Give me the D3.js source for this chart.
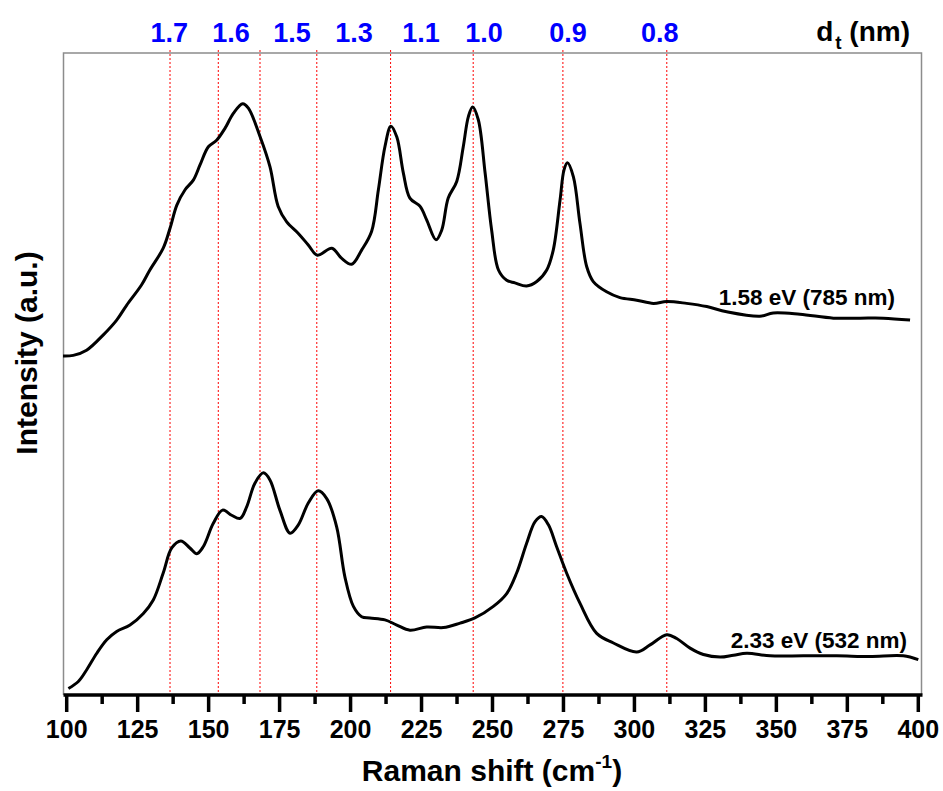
<!DOCTYPE html>
<html>
<head>
<meta charset="utf-8">
<script src="https://cdn.jsdelivr.net/npm/d3@7"></script>
<style>
  html, body { margin: 0; padding: 0; background: #fff; }
  svg { display: block; font-family: "Liberation Sans", Arial, sans-serif; }
</style>
</head>
<body>
<svg id="chart" width="943" height="791"></svg>
<script>
// Raman shift (cm^-1) and intensity (a.u., offset spectra)
const shift785 = [98.7,102.3,107.0,112.9,117.6,121.1,126.4,129.3,134.0,136.4,138.8,141.7,144.6,147.0,149.9,152.8,155.8,158.7,162.0,164.0,168.1,171.6,174.5,177.5,181.6,185.1,188.3,193.4,196.9,200.4,203.9,207.4,209.8,212.1,214.2,216.3,218.6,220.9,224.5,226.8,230.1,232.1,234.4,237.4,239.7,241.5,243.0,245.0,247.4,249.7,252.1,255.0,257.9,262.0,265.6,269.1,271.4,273.8,275.2,276.4,278.5,280.8,283.2,285.5,290.2,294.9,300.8,306.7,311.4,318.4,325.5,332.5,344.2,348.9,358.3,370.1,379.5,387.7,397.1];
const int785 = [52.8,52.9,53.7,56.1,58.4,60.7,63.9,66.2,69.6,72.7,76.3,78.7,80.2,82.6,85.4,86.4,88.3,90.6,92.1,91.4,87.0,82.3,76.1,73.7,71.9,70.1,68.5,69.6,68.0,67.1,69.3,72.2,78.7,85.4,88.6,86.9,81.3,77.4,76.1,74.0,70.9,72.4,77.4,80.0,85.4,90.1,91.6,89.6,81.3,72.4,66.2,64.6,64.2,63.7,64.4,66.2,69.3,77.1,81.8,82.9,80.7,73.5,66.7,64.4,62.8,61.9,61.5,61.0,61.3,61.0,60.5,59.7,59.0,59.5,59.3,58.7,58.7,58.7,58.4];

const shift532 = [100.6,104.1,107.0,110.6,114.1,117.6,122.3,127.0,130.5,134.0,137.0,140.2,143.4,145.8,148.1,151.6,154.9,158.1,161.1,163.4,166.3,169.3,171.6,175.1,178.7,181.6,185.1,188.6,191.6,195.1,198.0,201.0,203.9,206.8,212.1,216.3,220.9,226.8,232.7,238.6,243.8,250.3,255.0,258.5,262.0,265.0,267.3,269.7,272.6,276.1,280.8,286.7,292.6,300.8,305.5,311.4,314.9,319.6,324.3,330.2,334.9,339.6,347.8,359.5,371.3,383.0,394.7,400.0];
const int532 = [1.0,2.1,3.9,6.5,8.6,9.9,10.9,12.7,14.8,19.0,22.9,24.0,22.9,22.0,23.1,26.7,28.8,28.0,27.5,29.3,33.0,34.6,33.5,28.8,25.2,26.5,29.9,31.8,30.6,26.2,18.4,13.8,12.2,12.0,11.7,10.9,10.1,10.6,10.5,11.2,12.0,13.8,15.8,19.0,23.6,27.0,27.8,26.5,23.1,19.0,14.3,9.6,8.1,6.7,7.8,9.4,8.8,7.3,6.3,5.9,6.2,6.5,6.1,6.1,6.1,6.0,6.1,5.5];

// Tube diameter markers: RBM position (cm^-1) and diameter label (nm)
const diamShift = [136.4,153.4,168.1,188.1,214.1,243.2,274.8,311.4];
const diamLabels = ["1.7","1.6","1.5","1.3","1.1","1.0","0.9","0.8"];

const xTicksMajor = [100,125,150,175,200,225,250,275,300,325,350,375,400];
const xTicksMinor = [112.5,137.5,162.5,187.5,212.5,237.5,262.5,287.5,312.5,337.5,362.5,387.5];

const seriesLabels = ["1.58 eV (785 nm)", "2.33 eV (532 nm)"];

const svg = d3.select("#chart");
const frame = { left: 63.5, right: 921.5, top: 53, bottom: 695 };

const x = d3.scaleLinear().domain([100, 400]).range([66.7, 918.3]);
const y = d3.scaleLinear().domain([0, 100]).range([695, 53]);

// the diameter labels sit on an evenly spread row above the frame
const labelAt = [136.1,157.9,179.4,201.2,224.8,247.0,276.6,308.9];

// plot frame (thin grey on top/left/right)
svg.append("path")
  .attr("d", `M${frame.left},${frame.bottom} V${frame.top} H${frame.right} V${frame.bottom}`)
  .attr("fill", "none").attr("stroke", "#8c8c8c").attr("stroke-width", 1.5);

// dotted diameter markers
svg.append("g").selectAll("line").data(diamShift).join("line")
  .attr("x1", d => x(d)).attr("x2", d => x(d))
  .attr("y1", 50).attr("y2", frame.bottom)
  .attr("stroke", "#ff0000").attr("stroke-width", 1)
  .attr("stroke-dasharray", "2,2");

// diameter labels on top
svg.append("g").selectAll("text").data(diamLabels).join("text")
  .attr("x", (d, i) => x(labelAt[i])).attr("y", 42)
  .attr("text-anchor", "middle")
  .attr("font-size", 27).attr("font-weight", "bold")
  .attr("fill", "#0000ff")
  .text(d => d);

const dt = svg.append("text")
  .attr("x", 910).attr("y", 41)
  .attr("text-anchor", "end")
  .attr("font-size", 28).attr("font-weight", "bold").attr("fill", "#000");
dt.append("tspan").text("d");
dt.append("tspan").attr("font-size", 19).attr("dx", 2).attr("dy", 8).text("t");
dt.append("tspan").attr("dy", -8).text(" (nm)");

// spectra
const line = d3.line().x(d => x(d[0])).y(d => y(d[1])).curve(d3.curveCatmullRom.alpha(0.5));
const s785 = shift785.map((v, i) => [v, int785[i]]);
const s532 = shift532.map((v, i) => [v, int532[i]]);

svg.append("path").datum(s785).attr("d", line)
  .attr("fill", "none").attr("stroke", "#000").attr("stroke-width", 3)
  .attr("stroke-linejoin", "round");
svg.append("path").datum(s532).attr("d", line)
  .attr("fill", "none").attr("stroke", "#000").attr("stroke-width", 3)
  .attr("stroke-linejoin", "round");

// series labels
svg.append("text").attr("x", 895).attr("y", 305).attr("text-anchor", "end")
  .attr("font-size", 22.5).attr("font-weight", "bold").text(seriesLabels[0]);
svg.append("text").attr("x", 907).attr("y", 648).attr("text-anchor", "end")
  .attr("font-size", 22.5).attr("font-weight", "bold").text(seriesLabels[1]);

// bottom axis
const axisG = svg.append("g").attr("transform", `translate(0,${frame.bottom})`);
axisG.append("line").attr("x1", frame.left).attr("x2", frame.right + 1)
  .attr("stroke", "#000").attr("stroke-width", 3.5);
axisG.selectAll("line.major").data(xTicksMajor).join("line").attr("class", "major")
  .attr("x1", d => x(d)).attr("x2", d => x(d)).attr("y1", 0).attr("y2", 17)
  .attr("stroke", "#000").attr("stroke-width", 3.5);
axisG.selectAll("line.minor").data(xTicksMinor).join("line").attr("class", "minor")
  .attr("x1", d => x(d)).attr("x2", d => x(d)).attr("y1", 0).attr("y2", 9)
  .attr("stroke", "#000").attr("stroke-width", 3.5);
axisG.selectAll("text").data(xTicksMajor).join("text")
  .attr("x", d => x(d)).attr("y", 43)
  .attr("text-anchor", "middle")
  .attr("font-size", 25).attr("font-weight", "bold")
  .text(d => d3.format("d")(d));

// axis titles
const xt = svg.append("text").attr("x", 492).attr("y", 781)
  .attr("text-anchor", "middle").attr("font-size", 30).attr("font-weight", "bold");
xt.append("tspan").text("Raman shift (cm");
xt.append("tspan").attr("font-size", 19).attr("dy", -13).text("-1");
xt.append("tspan").attr("dy", 13).text(")");

svg.append("text")
  .attr("transform", "translate(37,353) rotate(-90)")
  .attr("text-anchor", "middle").attr("font-size", 30).attr("font-weight", "bold")
  .text("Intensity (a.u.)");
</script>
</body>
</html>
